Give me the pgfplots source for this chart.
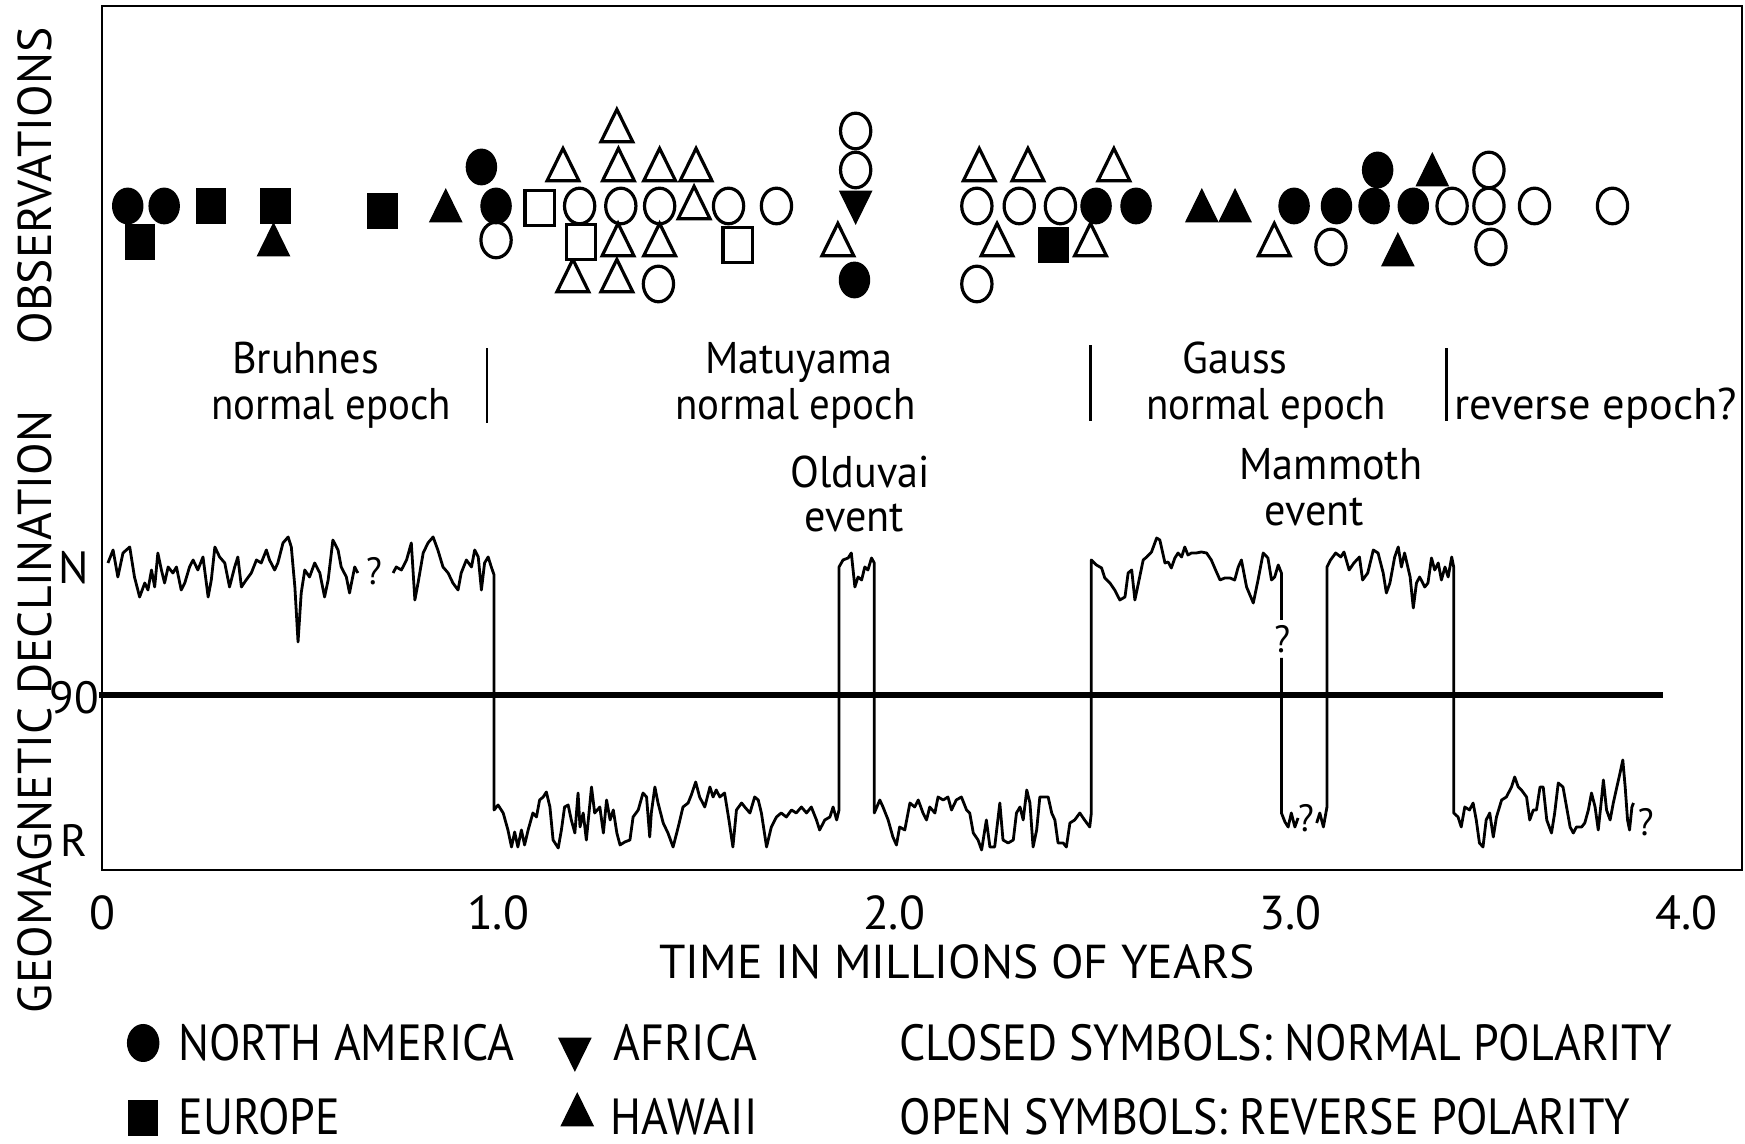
\documentclass[border=0pt]{standalone}
\usepackage{fontspec}
\setmainfont{PT Sans}
\newfontfamily\ann{PT Sans}[FakeStretch=0.95]
\newfontfamily\annN{PT Sans}[FakeStretch=0.92]
\newfontfamily\caps{PT Sans}
\newfontfamily\legf{PT Sans}[FakeStretch=0.905]
\usepackage{pgfplots}
\pgfplotsset{compat=1.18}
\pgfplotsset{
 ocirc/.style={black, only marks, mark=*, mark size=4.45pt, mark options={xscale=0.85, fill=white, draw=black, line width=0.8pt}},
 fcirc/.style={black, only marks, mark=*, mark size=4.45pt, mark options={xscale=0.85, fill=black, draw=black, line width=0.3pt}},
 otri/.style={black, only marks, mark=triangle*, mark size=5.4pt, mark options={xscale=0.85, fill=white, draw=black, line width=0.8pt}},
 ftri/.style={black, only marks, mark=triangle*, mark size=5.4pt, mark options={xscale=0.85, fill=black, draw=black, line width=0.3pt}},
 dtri/.style={black, only marks, mark=triangle*, mark size=5.4pt, mark options={xscale=0.85, rotate=180, fill=black, draw=black, line width=0.3pt}},
 osq/.style={black, only marks, mark=square*, mark size=4.3pt, mark options={xscale=0.85, fill=white, draw=black, line width=0.8pt}},
 fsq/.style={black, only marks, mark=square*, mark size=4.3pt, mark options={xscale=0.85, fill=black, draw=black, line width=0.3pt}},
 trace/.style={black, line width=0.7pt, line join=round, mark=none},
}
\begin{document}
\begin{tikzpicture}
\useasboundingbox (-25.5pt,-68.5pt) rectangle (410.75pt,217.5pt);
\begin{axis}[
  at={(0,0)}, anchor=south west,
  scale only axis, width=410pt, height=216pt,
  xmin=0, xmax=4.141, ymin=0, ymax=864,
  clip=false,
  axis line style={line width=0.6pt},
  major tick length=0pt,
  xtick={0,1,2,3,4}, xticklabels={0,1.0,2.0,3.0,4.0},
  xticklabel style={font=\caps\fontsize{11.9}{12}\selectfont, anchor=base, yshift=-14.8pt},
  ytick={29,172,302}, yticklabels={R,90,N},
  yticklabel style={font=\caps\fontsize{11.3}{12}\selectfont, anchor=center, xshift=-7pt},
]
% polarity trace
\addplot[trace] coordinates {(0.015,307)(0.028,320)(0.040,293)(0.053,317)(0.070,323)(0.082,293)(0.095,273)(0.108,287)(0.116,280)(0.125,300)(0.133,283)(0.141,317)(0.150,300)(0.158,287)(0.167,303)(0.179,297)(0.188,303)(0.200,280)(0.209,287)(0.221,303)(0.230,310)(0.242,300)(0.255,313)(0.268,273)(0.276,290)(0.285,323)(0.297,313)(0.310,307)(0.322,283)(0.335,303)(0.343,313)(0.352,283)(0.364,290)(0.377,297)(0.390,310)(0.402,307)(0.415,320)(0.423,310)(0.436,300)(0.444,307)(0.457,327)(0.470,333)(0.478,323)(0.487,283)(0.495,228)(0.503,277)(0.512,300)(0.524,293)(0.537,307)(0.550,297)(0.562,273)(0.571,290)(0.583,330)(0.596,320)(0.604,303)(0.617,293)(0.625,277)(0.638,303)(0.646,297)};
\addplot[trace] coordinates {(0.735,297)(0.743,303)(0.756,300)(0.769,310)(0.781,327)(0.790,270)(0.798,287)(0.811,317)(0.823,327)(0.836,333)(0.848,320)(0.861,303)(0.874,297)(0.886,287)(0.899,280)(0.907,297)(0.920,310)(0.933,303)(0.941,320)(0.950,313)(0.958,280)(0.966,307)(0.975,313)(0.983,303)(0.990,295)
(0.990,60)(1.000,65)(1.013,57)(1.025,40)(1.034,23)(1.042,38)(1.050,23)(1.059,40)(1.067,25)(1.076,40)(1.088,57)(1.097,53)(1.105,70)(1.114,73)(1.122,78)(1.131,63)(1.139,30)(1.152,22)(1.160,40)(1.168,63)(1.177,65)(1.185,50)(1.194,37)(1.202,77)(1.207,43)(1.215,57)(1.223,30)(1.236,83)(1.244,57)(1.257,63)(1.266,37)(1.274,70)(1.283,50)(1.291,60)(1.300,37)(1.308,25)(1.320,28)(1.333,30)(1.341,53)(1.354,60)(1.366,77)(1.375,73)(1.383,33)(1.387,57)(1.396,83)(1.404,67)(1.417,47)(1.429,37)(1.442,23)(1.455,43)(1.467,63)(1.480,67)(1.488,75)(1.499,88)(1.509,73)(1.522,63)(1.535,83)(1.543,73)(1.551,80)(1.560,73)(1.572,77)(1.583,50)(1.593,23)(1.602,60)(1.615,67)(1.623,63)(1.636,57)(1.648,73)(1.657,70)(1.665,57)(1.678,23)(1.690,43)(1.703,53)(1.715,57)(1.728,53)(1.741,60)(1.753,57)(1.766,63)(1.779,57)(1.791,63)(1.804,50)(1.812,40)(1.825,50)(1.838,53)(1.846,63)(1.855,50)(1.861,60)
(1.861,303)(1.871,310)(1.884,312)(1.892,317)(1.901,283)(1.909,293)(1.918,290)(1.926,303)(1.934,300)(1.943,312)(1.950,307)
(1.950,57)(1.964,70)(1.972,63)(1.985,50)(1.997,33)(2.006,25)(2.014,43)(2.027,40)(2.040,67)(2.052,63)(2.061,70)(2.073,57)(2.082,50)(2.090,63)(2.103,57)(2.111,73)(2.124,70)(2.136,73)(2.145,60)(2.157,70)(2.170,73)(2.183,60)(2.191,57)(2.200,37)(2.212,30)(2.221,20)(2.233,50)(2.242,23)(2.254,23)(2.267,67)(2.275,30)(2.288,27)(2.301,30)(2.309,57)(2.318,63)(2.326,50)(2.335,80)(2.343,67)(2.351,23)(2.360,40)(2.368,73)(2.377,73)(2.389,73)(2.398,57)(2.406,50)(2.414,27)(2.427,27)(2.435,23)(2.444,47)(2.456,50)(2.469,57)(2.481,50)(2.494,43)(2.498,57)
(2.498,310)(2.511,305)(2.524,302)(2.532,292)(2.545,287)(2.557,280)(2.570,270)(2.583,273)(2.591,297)(2.600,300)(2.608,270)(2.617,287)(2.629,310)(2.638,313)(2.650,318)(2.663,332)(2.671,330)(2.684,307)(2.692,308)(2.700,302)(2.709,312)(2.717,317)(2.726,313)(2.734,323)(2.742,315)(2.751,317)(2.763,317)(2.776,318)(2.789,317)(2.801,310)(2.814,298)(2.823,290)(2.835,292)(2.848,292)(2.860,290)(2.869,303)(2.877,310)(2.890,283)(2.907,267)(2.919,290)(2.932,317)(2.944,312)(2.953,290)(2.961,293)(2.970,305)(2.978,297)(2.978,250)};
\addplot[trace] coordinates {(2.978,212)(2.978,57)(2.987,48)(2.995,43)(3.003,57)(3.012,43)(3.020,52)};
\addplot[trace] coordinates {(3.067,47)(3.075,57)(3.084,43)(3.093,63)(3.093,303)(3.102,310)(3.115,317)(3.128,313)(3.136,318)(3.149,300)(3.161,307)(3.175,313)(3.183,290)(3.196,297)(3.210,320)(3.222,317)(3.235,297)(3.243,277)(3.252,287)(3.264,313)(3.273,323)(3.281,303)(3.289,317)(3.303,293)(3.311,262)(3.319,287)(3.327,293)(3.340,283)(3.348,287)(3.357,312)(3.365,300)(3.374,307)(3.382,290)(3.391,303)(3.399,293)(3.408,313)(3.413,303)(3.413,57)(3.424,53)(3.432,43)(3.441,63)(3.453,60)(3.462,67)(3.470,50)(3.478,27)(3.487,23)(3.495,50)(3.504,57)(3.513,33)(3.521,53)(3.534,70)(3.546,73)(3.559,83)(3.567,93)(3.576,83)(3.584,80)(3.597,73)(3.605,50)(3.614,60)(3.622,60)(3.631,83)(3.639,83)(3.648,50)(3.660,37)(3.668,57)(3.677,87)(3.689,83)(3.698,63)(3.707,43)(3.715,37)(3.723,43)(3.736,43)(3.744,47)(3.753,60)(3.761,77)(3.770,63)(3.778,40)(3.786,70)(3.791,90)(3.799,60)(3.808,50)(3.816,67)(3.825,83)(3.833,97)(3.840,110)(3.846,83)(3.852,50)(3.857,40)(3.863,63)(3.867,67)};
% 90 degree line
\addplot[black, line width=1.3pt, mark=none] coordinates {(-0.008,175)(3.942,175)};
% epoch boundaries
\addplot[black, line width=0.7pt, mark=none] coordinates {(0.972,447)(0.972,522)};
\addplot[black, line width=0.7pt, mark=none] coordinates {(2.496,449)(2.496,525)};
\addplot[black, line width=0.7pt, mark=none] coordinates {(3.395,449)(3.395,522)};
% observations: open symbols (reverse polarity)
\addplot[ocirc] coordinates {(0.995,630)(1.206,664)(1.310,664)(1.408,664)(1.582,664)(1.703,664)(1.405,586)(1.903,739)(1.903,700)(2.209,664)(2.316,664)(2.420,664)(2.209,586)(3.409,664)(3.502,664)(3.617,664)(3.814,664)(3.502,700)(3.103,623)(3.507,623)};
\addplot[otri] coordinates {(1.495,662)(1.164,700)(1.300,739)(1.304,700)(1.408,700)(1.500,700)(1.303,625)(1.408,625)(1.189,589)(1.300,589)(1.858,625)(2.215,700)(2.338,700)(2.555,700)(2.260,625)(2.496,625)(2.960,625)};
\addplot[osq] coordinates {(1.105,662)(1.210,628)(1.605,625)};
% closed symbols (normal polarity)
\addplot[fcirc] coordinates {(0.065,664)(0.157,664)(0.958,703)(0.995,664)(1.900,590)(2.510,664)(2.611,664)(3.010,664)(3.117,664)(3.212,664)(3.311,664)(3.221,700)};
\addplot[ftri] coordinates {(0.433,625)(0.868,659)(2.777,659)(2.861,659)(3.359,695)(3.272,615)};
\addplot[dtri] coordinates {(1.903,668)};
\addplot[fsq] coordinates {(0.275,664)(0.096,628)(0.438,664)(0.708,659)(2.403,625)};
% annotations
\begin{scope}[every node/.style={font=\ann\fontsize{11.1}{13}\selectfont, anchor=base, inner sep=0pt}]
\node at (axis cs:0.514,496) {Bruhnes};
\node[font=\annN\fontsize{11.1}{13}\selectfont] at (axis cs:0.579,450) {normal epoch};
\node at (axis cs:1.759,496) {Matuyama};
\node[font=\annN\fontsize{11.1}{13}\selectfont] at (axis cs:1.751,450) {normal epoch};
\node at (axis cs:2.861,496) {Gauss};
\node[font=\annN\fontsize{11.1}{13}\selectfont] at (axis cs:2.940,450) {normal epoch};
\node[font=\caps\fontsize{11.1}{13}\selectfont] at (axis cs:3.772,450) {reverse epoch?};
\node at (axis cs:1.914,382) {Olduvai};
\node at (axis cs:1.900,338) {event};
\node at (axis cs:3.103,390) {Mammoth};
\node at (axis cs:3.061,344) {event};
\end{scope}
\begin{scope}[every node/.style={font=\ann\fontsize{9.5}{11}\selectfont, anchor=center, inner sep=0pt}]
\node at (axis cs:0.687,299) {?};
\node at (axis cs:2.980,231) {?};
\node at (axis cs:3.040,52) {?};
\node at (axis cs:3.898,48) {?};
\end{scope}
% axis titles
\node[font=\caps\fontsize{11.9}{13}\selectfont, anchor=base, inner sep=0pt] at (axis cs:2.159,-109) {TIME IN MILLIONS OF YEARS};
\node[font=\caps\fontsize{11.9}{13}\selectfont, anchor=base, rotate=90, inner sep=0pt] at (axis cs:-0.128,684) {OBSERVATIONS};
\node[font=\caps\fontsize{11.9}{13}\selectfont, anchor=base, rotate=90, inner sep=0pt] at (axis cs:-0.128,158) {GEOMAGNETIC DECLINATION};
% legend
\addplot[fcirc, mark size=4.6pt] coordinates {(0.104,-173)};
\addplot[fsq, mark size=4.3pt] coordinates {(0.104,-248)};
\addplot[dtri, mark size=5.4pt] coordinates {(1.194,-179)};
\addplot[ftri, mark size=5.4pt] coordinates {(1.200,-245)};
\begin{scope}[every node/.style={font=\legf\fontsize{12.7}{14}\selectfont, anchor=base west, inner sep=0pt, text depth=0pt}]
\node at (axis cs:0.191,-190.6) {NORTH AMERICA};
\node at (axis cs:1.290,-190.6) {AFRICA};
\node at (axis cs:2.012,-190.6) {CLOSED SYMBOLS: NORMAL POLARITY};
\node at (axis cs:0.191,-265) {EUROPE};
\node at (axis cs:1.282,-265) {HAWAII};
\node at (axis cs:2.012,-265) {OPEN SYMBOLS: REVERSE POLARITY};
\end{scope}
\end{axis}
\end{tikzpicture}
\end{document}
